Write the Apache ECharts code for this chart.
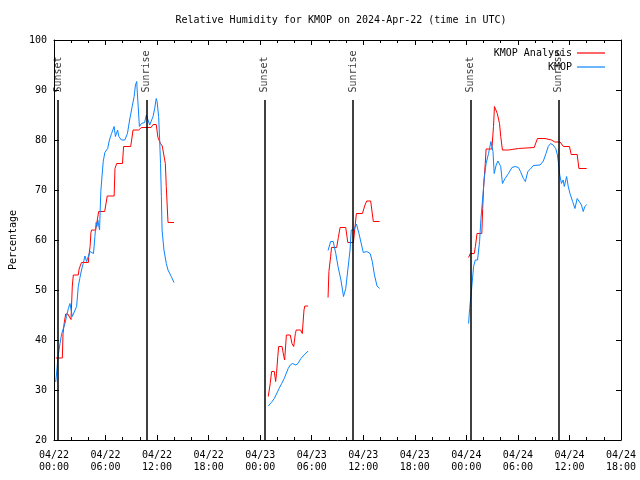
<!DOCTYPE html>
<html>
<head>
<meta charset="utf-8">
<script src="https://cdn.jsdelivr.net/npm/echarts@6/dist/echarts.min.js"></script>
<style>html,body{margin:0;padding:0;background:#fff}#c{width:640px;height:480px}</style>
</head>
<body>
<div id="c"></div>
<script>
// hours since 2024-04-22 00:00 UTC, relative humidity (%)
const analysisSeg1 = [[0.2,36.4],[0.97,36.4],[1.05,41.3],[1.2,43.5],[1.36,45.2],[1.6,45.2],[1.98,44.1],[2.13,50.8],[2.25,53],[2.83,53],[2.92,54.2],[3.2,55.5],[4.0,55.5],[4.05,56.7],[4.2,58.7],[4.3,61.5],[4.37,62],[4.85,62],[5.2,65.7],[5.9,65.7],[6.2,68.8],[7.0,68.8],[7.1,74.3],[7.3,75.3],[7.97,75.3],[8.1,78.7],[8.93,78.7],[9.2,82],[9.86,82],[10.17,82.5],[11.3,82.5],[11.53,83.1],[11.9,83.1],[12.1,80.5],[12.4,79.3],[12.6,78.8],[12.96,75.3],[13.07,70.7],[13.2,66],[13.27,63.5],[13.97,63.5]];
const analysisSeg2a = [[24.94,28.7],[25.17,31.3],[25.33,33.7],[25.64,33.7],[25.8,31.7],[25.9,33.3],[26.05,36.7],[26.15,38.7],[26.55,38.7],[26.75,36.7],[26.85,36],[27.05,41],[27.5,41],[27.7,39.3],[27.9,38.7],[28.1,41.3],[28.2,42],[28.7,42],[28.9,41.3],[29.1,46],[29.2,46.8],[29.58,46.8]];
const analysisSeg2b = [[31.9,48.5],[32.0,53.7],[32.2,56.7],[32.3,58.5],[32.9,58.5],[33.1,60.5],[33.3,62.5],[33.96,62.5],[34.2,59.5],[34.85,59.5],[35.0,62],[35.2,65.3],[35.9,65.3],[36.2,67],[36.4,67.8],[36.86,67.8],[37.17,63.7],[37.9,63.7]];
const analysisSeg3 = [[48.26,56.5],[48.46,57.3],[48.92,57.3],[49.05,58.7],[49.24,61.3],[49.8,61.3],[49.9,66.3],[50.0,70.3],[50.2,75.3],[50.3,78.2],[50.97,78.2],[51.16,82.7],[51.27,86.7],[51.47,86.3],[51.6,85.3],[51.86,83.3],[52.0,80.7],[52.2,78],[52.9,78],[53.1,78.3],[54.06,78.3],[54.2,78.5],[55.9,78.5],[56.27,80.3],[57.16,80.3],[57.9,80],[58.3,79.6],[58.9,79.6],[59.3,78.7],[60.0,78.7],[60.2,77.1],[60.9,77.1],[61.1,74.3],[62.0,74.3]];

const kmopSeg1 = [[0.2,31.6],[0.35,34.2],[0.45,36.5],[0.7,39.3],[0.9,41.3],[1.28,43.3],[1.45,44.7],[1.67,46.3],[1.86,47.3],[2.05,47.7],[2.13,44.7],[2.36,45],[2.63,46.7],[2.83,50.7],[3.0,52.3],[3.2,54],[3.4,55.3],[3.6,56.8],[3.8,55.7],[4.0,55.3],[4.18,57.7],[4.4,58.1],[4.6,57.3],[4.76,60.7],[4.9,63.5],[5.0,62.7],[5.1,64],[5.3,62],[5.45,69.7],[5.6,73],[5.73,75.7],[5.92,77.5],[6.1,77.3],[6.25,78.3],[6.45,80],[6.7,81.3],[7.0,82.7],[7.15,80.7],[7.4,82],[7.55,80.7],[7.85,80],[8.24,80],[8.55,81.3],[8.8,84],[9.1,86.7],[9.33,88.7],[9.48,91],[9.63,91.7],[9.68,90],[9.8,86.7],[9.94,82.7],[10.17,83.3],[10.37,83],[10.55,83.5],[10.75,85],[10.95,84],[11.14,83],[11.33,83.3],[11.53,84.7],[11.72,86.3],[11.9,88.3],[12.0,87.7],[12.18,84.7],[12.3,80],[12.4,75.3],[12.5,68.7],[12.58,62],[12.8,58],[13.07,55.3],[13.27,54],[13.65,52.7],[13.97,51.5]];
const kmopSeg2a = [[24.94,26.8],[25.3,27.5],[25.64,28.3],[25.9,29.2],[26.2,30.3],[26.5,31.3],[26.8,32.3],[27.05,33.4],[27.26,34.3],[27.5,35],[27.77,35.3],[28.0,35.3],[28.15,35],[28.4,35.3],[28.74,36.3],[29.0,36.8],[29.2,37.2],[29.58,37.8]];
const kmopSeg2b = [[31.9,57.9],[32.2,59.7],[32.5,59.7],[32.8,57.3],[33.06,54.7],[33.4,52],[33.7,48.7],[33.96,50.3],[34.2,54],[34.46,58],[34.6,62],[34.9,62],[35.2,63.2],[35.5,61.3],[35.8,59],[36.0,57.5],[36.4,57.7],[36.8,57.3],[37.05,55.7],[37.3,53],[37.6,50.8],[37.9,50.3]];
const kmopSeg3 = [[48.26,43.3],[48.38,46.3],[48.55,49],[48.65,51],[48.84,54.7],[49.04,56],[49.3,56],[49.54,59.7],[49.7,64.3],[49.93,69],[50.08,72.3],[50.3,75.3],[50.58,77.3],[50.86,79.7],[50.98,80],[51.1,77.7],[51.24,73.3],[51.47,75],[51.67,75.8],[51.86,75.7],[52.0,74.7],[52.2,71.3],[52.5,72.3],[52.9,73.3],[53.3,74.5],[53.68,74.7],[54.06,74.5],[54.3,73.7],[54.64,72.3],[54.87,71.7],[55.15,73.7],[55.4,74.1],[55.8,74.9],[56.58,75],[56.96,75.8],[57.27,77.3],[57.53,78.7],[57.8,79.3],[58.1,79],[58.4,78.3],[58.6,77],[58.7,75.7],[58.87,73],[59.07,71.3],[59.26,72],[59.4,70.7],[59.67,72.7],[59.86,70.7],[60.06,69.3],[60.37,67.7],[60.64,66.3],[60.9,68.3],[61.13,68],[61.4,67],[61.6,65.7],[61.8,66.7],[62.0,67.1]];

const sunsetHours = [0.47, 24.48, 48.49];
const sunriseHours = [10.79, 34.8, 58.7];
const sunLineTop = 88;
const xTickDates = ['04/22','04/23','04/24'];

function joinSegs(segs){
  const out = [];
  segs.forEach((s,i)=>{ if(i>0) out.push([s[0][0]-0.01,'-']); s.forEach(p=>out.push(p)); });
  return out;
}
const analysisData = joinSegs([analysisSeg1, analysisSeg2a, analysisSeg2b, analysisSeg3]);
const kmopData = joinSegs([kmopSeg1, kmopSeg2a, kmopSeg2b, kmopSeg3]);

const FONT = 'DejaVu Sans Mono';
const sunEvents = [];
sunsetHours.forEach(h=>sunEvents.push({name:'Sunset', value:[h, sunLineTop]}));
sunriseHours.forEach(h=>sunEvents.push({name:'Sunrise', value:[h, sunLineTop]}));

function xFmt(v){
  const d = Math.floor(v/24), hr = v - d*24;
  const dd = xTickDates[d] || ('04/' + (22+d));
  return dd + '\n' + (hr<10?'0':'') + hr + ':00';
}

const baseX = {
  type:'value', min:0, max:66, interval:6,
  axisLine:{show:true, onZero:false, lineStyle:{color:'#000', width:1}},
  axisTick:{show:true, inside:true, length:5, lineStyle:{color:'#000'}},
  minorTick:{show:true, splitNumber:3, length:3, lineStyle:{color:'#000'}},
  splitLine:{show:false}, minorSplitLine:{show:false}
};
const baseY = {
  type:'value', min:20, max:100, interval:10,
  axisLine:{show:true, onZero:false, lineStyle:{color:'#000', width:1}},
  axisTick:{show:true, inside:true, length:5, lineStyle:{color:'#000'}},
  splitLine:{show:false}
};

const chart = echarts.init(document.getElementById('c'));
chart.setOption({
  animation:false,
  backgroundColor:'#fff',
  title:{text:'Relative Humidity for KMOP on 2024-Apr-22 (time in UTC)', left:336, top:10, textAlign:'center',
    textStyle:{fontFamily:FONT, fontSize:10, fontWeight:'normal', color:'#000'}},
  legend:[
    {data:['KMOP Analysis'], right:30, top:43, orient:'vertical', align:'right', icon:'rect', itemWidth:28, itemHeight:1.2,
     textStyle:{fontFamily:FONT, fontSize:10, color:'#000'}},
    {data:['KMOP'], right:30, top:57, orient:'vertical', align:'right', icon:'rect', itemWidth:28, itemHeight:1.2,
     textStyle:{fontFamily:FONT, fontSize:10, color:'#000'}}
  ],
  grid:{left:52, right:19, top:40, bottom:40},
  xAxis:[
    Object.assign({}, baseX, {position:'bottom', axisLabel:{formatter:xFmt, fontFamily:FONT, fontSize:10, color:'#000', margin:9, lineHeight:12}}),
    Object.assign({}, baseX, {position:'top', axisLabel:{show:false}})
  ],
  yAxis:[
    Object.assign({}, baseY, {position:'left', name:'Percentage', nameLocation:'middle', nameGap:36,
      nameTextStyle:{fontFamily:FONT, fontSize:10, color:'#000'},
      axisLabel:{fontFamily:FONT, fontSize:10, color:'#000', margin:7}}),
    Object.assign({}, baseY, {position:'right', axisLabel:{show:false}})
  ],
  series:[
    {name:'KMOP Analysis', type:'line', data:analysisData, showSymbol:false, symbol:'none', connectNulls:false,
     lineStyle:{color:'#ff0000', width:1}, itemStyle:{color:'#ff0000'}, z:3},
    {name:'KMOP', type:'line', data:kmopData, showSymbol:false, symbol:'none', connectNulls:false,
     lineStyle:{color:'#0a84ff', width:1}, itemStyle:{color:'#0a84ff'}, z:4},
    {name:'sun', type:'scatter', data:sunEvents, symbolSize:1, itemStyle:{color:'rgba(0,0,0,0)'}, silent:true,
     label:{show:true, formatter:'{b}', position:'top', distance:7, rotate:90, align:'left', verticalAlign:'middle',
       fontFamily:FONT, fontSize:10, color:'#000'},
     markLine:{silent:true, symbol:'none', label:{show:false}, lineStyle:{color:'#000', width:1.5, type:'solid'},
       data: sunEvents.map(e=>[{coord:[e.value[0],20]},{coord:[e.value[0],sunLineTop]}])}, z:2}
  ]
});
</script>
</body>
</html>
